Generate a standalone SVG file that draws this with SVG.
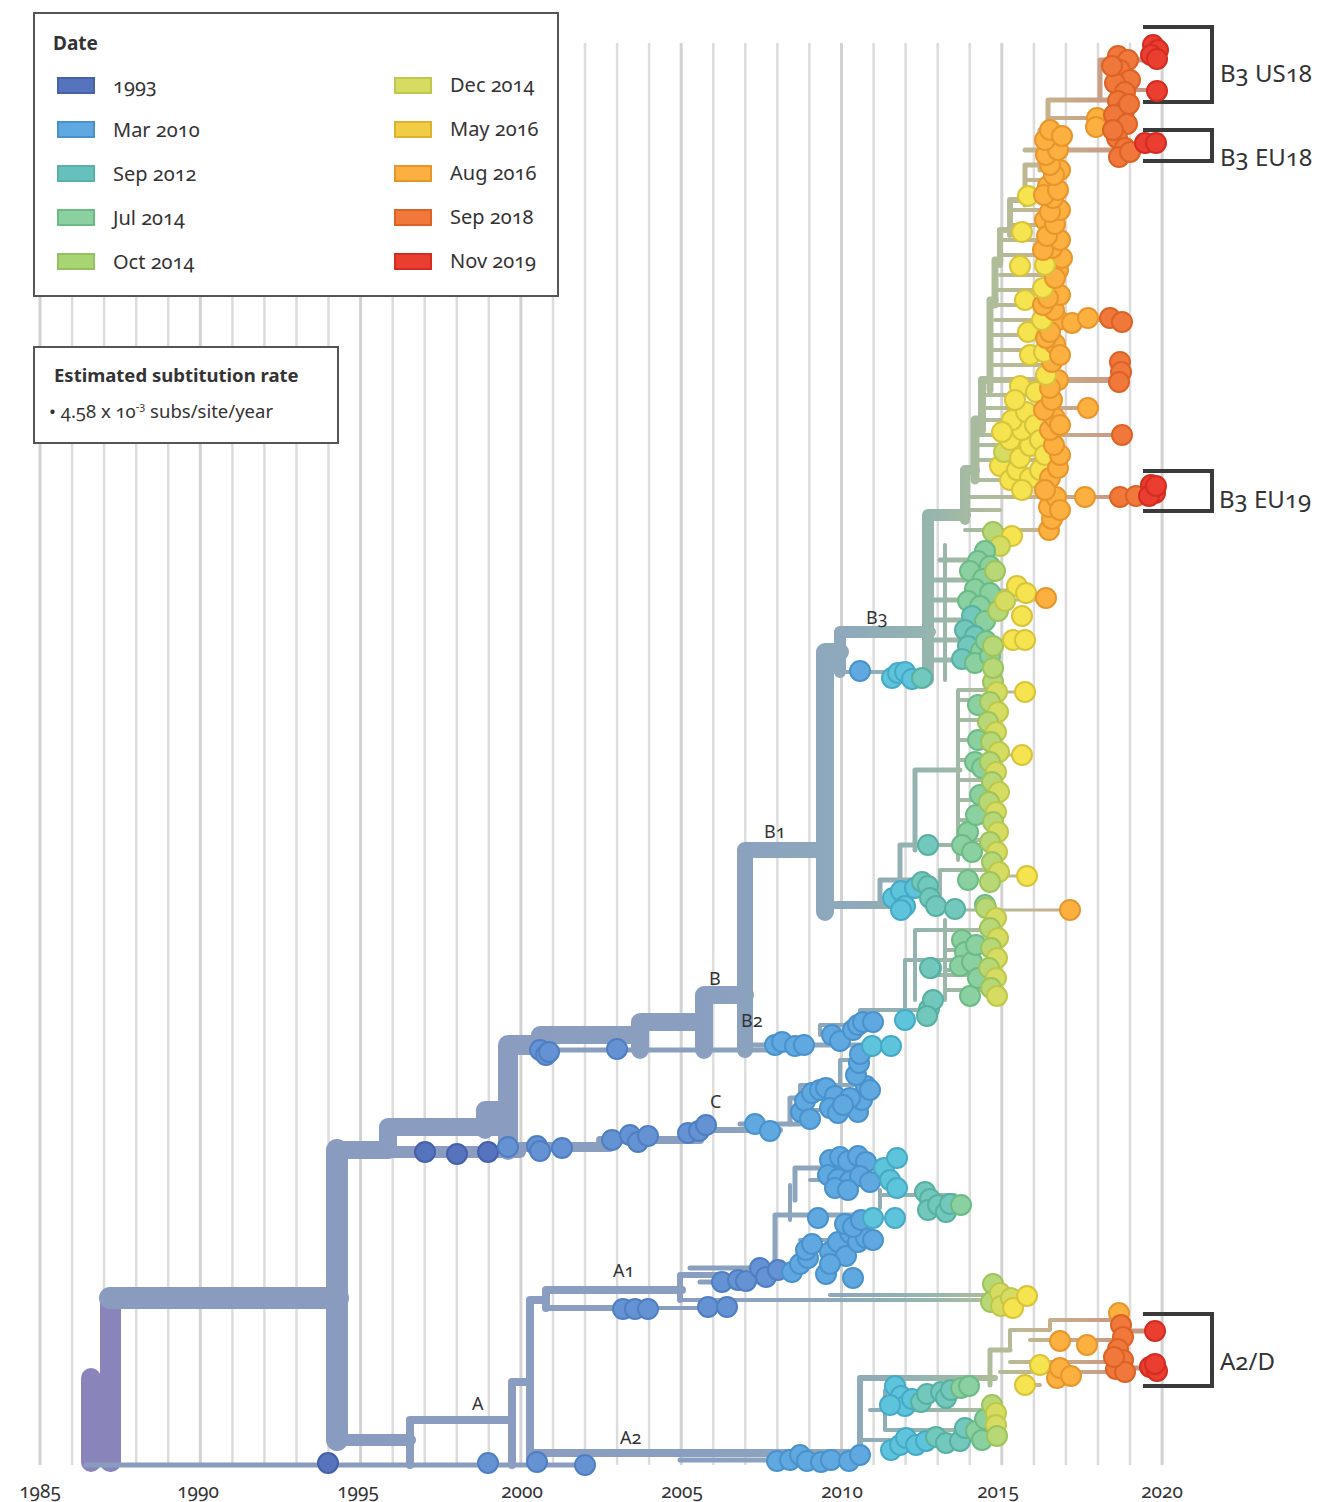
<svg xmlns="http://www.w3.org/2000/svg" width="1317" height="1502" viewBox="0 0 1317 1502">
<defs>
<linearGradient id="gt" gradientUnits="userSpaceOnUse" x1="330" y1="0" x2="1160" y2="0">
<stop offset="0" stop-color="#8a9bc0"/>
<stop offset="0.446" stop-color="#8a9fc0"/>
<stop offset="0.627" stop-color="#8ea9bb"/>
<stop offset="0.723" stop-color="#95b5ae"/>
<stop offset="0.795" stop-color="#aebd9a"/>
<stop offset="0.855" stop-color="#c4b48e"/>
<stop offset="0.928" stop-color="#c99e86"/>
<stop offset="1" stop-color="#c8907c"/>
</linearGradient>
</defs>
<style>
.grid{stroke:#dcdcdc;stroke-width:2.5}
.grid5{stroke:#d2d2d2;stroke-width:3}
.box{fill:#fff;stroke:#555;stroke-width:2}
.t{font-family:"Noto Sans","Open Sans","Liberation Sans",sans-serif;fill:#333;font-variant-numeric:oldstyle-nums}
.lg{font-size:20px}
.ax{font-size:19px;text-anchor:middle}
.cl{font-size:18px}
.bk{font-size:24px}
.b{font-weight:bold}
.br{fill:none;stroke:url(#gt);stroke-linecap:round;stroke-linejoin:round}
.brk{fill:none;stroke:#3a3a3a;stroke-width:4}
circle{stroke-width:2}
.k0{fill:#5673bd;stroke:#4660aa}
.k1{fill:#6592d2;stroke:#4f7fc2}
.k2{fill:#60a8e0;stroke:#4a92cc}
.k3{fill:#5ec4dc;stroke:#46aac6}
.k4{fill:#72c8bc;stroke:#58b0a2}
.k5{fill:#8ad0a0;stroke:#6cbb86}
.k6{fill:#b8d878;stroke:#9cc45c}
.k7{fill:#d6dc62;stroke:#bec84a}
.k8{fill:#f5e350;stroke:#d8c43a}
.k9{fill:#fbb040;stroke:#e8962c}
.k10{fill:#f0783a;stroke:#dc6226}
.k11{fill:#ea3e30;stroke:#d42c22}
.sw{stroke-width:2}
</style>
<rect width="1317" height="1502" fill="#fff"/>
<g id="gridlines">
<line class="grid5" x1="40" y1="43" x2="40" y2="1465"/>
<line class="grid" x1="72.1" y1="43" x2="72.1" y2="1465"/>
<line class="grid" x1="104.1" y1="43" x2="104.1" y2="1465"/>
<line class="grid" x1="136.2" y1="43" x2="136.2" y2="1465"/>
<line class="grid" x1="168.2" y1="43" x2="168.2" y2="1465"/>
<line class="grid5" x1="200.3" y1="43" x2="200.3" y2="1465"/>
<line class="grid" x1="232.4" y1="43" x2="232.4" y2="1465"/>
<line class="grid" x1="264.4" y1="43" x2="264.4" y2="1465"/>
<line class="grid" x1="296.5" y1="43" x2="296.5" y2="1465"/>
<line class="grid" x1="328.5" y1="43" x2="328.5" y2="1465"/>
<line class="grid5" x1="360.6" y1="43" x2="360.6" y2="1465"/>
<line class="grid" x1="392.7" y1="43" x2="392.7" y2="1465"/>
<line class="grid" x1="424.7" y1="43" x2="424.7" y2="1465"/>
<line class="grid" x1="456.8" y1="43" x2="456.8" y2="1465"/>
<line class="grid" x1="488.8" y1="43" x2="488.8" y2="1465"/>
<line class="grid5" x1="520.9" y1="43" x2="520.9" y2="1465"/>
<line class="grid" x1="553" y1="43" x2="553" y2="1465"/>
<line class="grid" x1="585" y1="43" x2="585" y2="1465"/>
<line class="grid" x1="617.1" y1="43" x2="617.1" y2="1465"/>
<line class="grid" x1="649.1" y1="43" x2="649.1" y2="1465"/>
<line class="grid5" x1="681.2" y1="43" x2="681.2" y2="1465"/>
<line class="grid" x1="713.3" y1="43" x2="713.3" y2="1465"/>
<line class="grid" x1="745.3" y1="43" x2="745.3" y2="1465"/>
<line class="grid" x1="777.4" y1="43" x2="777.4" y2="1465"/>
<line class="grid" x1="809.4" y1="43" x2="809.4" y2="1465"/>
<line class="grid5" x1="841.5" y1="43" x2="841.5" y2="1465"/>
<line class="grid" x1="873.6" y1="43" x2="873.6" y2="1465"/>
<line class="grid" x1="905.6" y1="43" x2="905.6" y2="1465"/>
<line class="grid" x1="937.7" y1="43" x2="937.7" y2="1465"/>
<line class="grid" x1="969.7" y1="43" x2="969.7" y2="1465"/>
<line class="grid5" x1="1001.8" y1="43" x2="1001.8" y2="1465"/>
<line class="grid" x1="1033.9" y1="43" x2="1033.9" y2="1465"/>
<line class="grid" x1="1065.9" y1="43" x2="1065.9" y2="1465"/>
<line class="grid" x1="1098" y1="43" x2="1098" y2="1465"/>
<line class="grid" x1="1130" y1="43" x2="1130" y2="1465"/>
<line class="grid5" x1="1162.1" y1="43" x2="1162.1" y2="1465"/>
</g>
<g id="axis-labels" class="t ax">
<text x="40" y="1498">1985</text>
<text x="198" y="1498">1990</text>
<text x="358" y="1498">1995</text>
<text x="522" y="1498">2000</text>
<text x="682" y="1498">2005</text>
<text x="842" y="1498">2010</text>
<text x="998" y="1498">2015</text>
<text x="1162" y="1498">2020</text>
</g>
<g id="legend-date">
<rect class="box" x="34" y="13" width="524" height="283"/>
<text class="t b" x="53" y="50" font-size="19">Date</text>
<rect class="k0 sw" x="58" y="78" width="36" height="15"/>
<rect class="k2 sw" x="58" y="122" width="36" height="15"/>
<rect class="sw" x="58" y="166" width="36" height="15" fill="#66c0bc" stroke="#58b0aa"/>
<rect class="k5 sw" x="58" y="210" width="36" height="15"/>
<rect class="sw" x="58" y="254" width="36" height="15" fill="#a8d474" stroke="#94c260"/>
<rect class="k7 sw" x="395" y="78" width="36" height="15"/>
<rect class="sw" x="395" y="122" width="36" height="15" fill="#f2cc44" stroke="#dcb232"/>
<rect class="k9 sw" x="395" y="166" width="36" height="15"/>
<rect class="k10 sw" x="395" y="210" width="36" height="15"/>
<rect class="k11 sw" x="395" y="254" width="36" height="15"/>
<g class="t lg">
<text x="113" y="93">1993</text>
<text x="113" y="137">Mar 2010</text>
<text x="113" y="181">Sep 2012</text>
<text x="113" y="225">Jul 2014</text>
<text x="113" y="269">Oct 2014</text>
<text x="450" y="92">Dec 2014</text>
<text x="450" y="136">May 2016</text>
<text x="450" y="180">Aug 2016</text>
<text x="450" y="224">Sep 2018</text>
<text x="450" y="268">Nov 2019</text>
</g>
</g>
<g id="legend-rate">
<rect class="box" x="34" y="347" width="304" height="96"/>
<text class="t b" x="54" y="382" font-size="18.5">Estimated subtitution rate</text>
<text class="t" x="49" y="418" font-size="18.5">• 4.58 x 10<tspan font-size="11" dy="-8">-3</tspan><tspan dy="8"> subs/site/year</tspan></text>
</g>
<g id="connectors">
<rect x="81" y="1368" width="20" height="104" rx="10" fill="#8985bb"/>
<rect x="100" y="1288" width="21" height="184" rx="10" fill="#8985bb"/>
<path class="br" stroke-width="5" d="M86,1465 H590"/>
<path d="M110,1298 H338" stroke="#8a9bc0" stroke-width="22" stroke-linecap="round" fill="none"/>
<path d="M337,1150 V1440" stroke="#8a9bc0" stroke-width="22" stroke-linecap="round" fill="none"/>
<path class="br" stroke-width="12" d="M337,1440 H410"/>
<path class="br" stroke-width="8" d="M410,1465 V1420 H512"/>
<path class="br" stroke-width="8" d="M512,1465 V1382 H530"/>
<path class="br" stroke-width="8" d="M530,1458 V1300 H546"/>
<path class="br" stroke-width="8" d="M546,1308 V1290 H682"/>
<path class="br" stroke-width="6" d="M546,1308 H650"/>
<path class="br" stroke-width="4" d="M650,1308 H730"/>
<path class="br" stroke-width="8" d="M530,1453 H860"/>
<path class="br" stroke-width="5" d="M680,1460 H800"/>
<path class="br" stroke-width="6" d="M680,1300 V1275 H720"/>
<path class="br" stroke-width="4" d="M680,1300 H1000"/>
<path class="br" stroke-width="4" d="M830,1295 H990"/>
<path class="br" stroke-width="5" d="M690,1268 H800"/>
<path class="br" stroke-width="5" d="M700,1282 H760"/>
<path class="br" stroke-width="5" d="M775,1268 V1215 H870"/>
<path class="br" stroke-width="4" d="M800,1240 H860"/>
<path class="br" stroke-width="4" d="M790,1220 V1185"/>
<path class="br" stroke-width="5" d="M795,1200 V1168 H880"/>
<path class="br" stroke-width="4" d="M810,1180 H860"/>
<path class="br" stroke-width="4" d="M880,1195 H955"/>
<path class="br" stroke-width="4" d="M880,1208 V1190"/>
<path class="br" stroke-width="6" d="M860,1450 V1378 H995"/>
<path class="br" stroke-width="4" d="M860,1440 H990"/>
<path class="br" stroke-width="4" d="M885,1390 V1430 H960"/>
<path class="br" stroke-width="4" d="M870,1410 H990"/>
<path class="br" stroke-width="4" d="M980,1420 H1000"/>
<path class="br" stroke-width="5" d="M990,1385 V1350 H1010"/>
<path class="br" stroke-width="4" d="M1010,1350 V1330 H1050 V1320 H1120"/>
<path class="br" stroke-width="4" d="M1010,1362 H1120"/>
<path class="br" stroke-width="4" d="M1030,1340 H1125"/>
<path class="br" stroke-width="4" d="M1000,1372 H1120"/>
<path class="br" stroke-width="4" d="M1020,1385 H1040"/>
<path class="br" stroke-width="5" d="M1120,1331 H1155"/>
<path class="br" stroke-width="5" d="M1120,1368 H1155"/>
<path class="br" stroke-width="18" d="M337,1150 H388"/>
<path class="br" stroke-width="12" d="M388,1152 H520"/>
<path class="br" stroke-width="10" d="M520,1147 H610"/>
<path class="br" stroke-width="8" d="M600,1140 H700"/>
<path class="br" stroke-width="6" d="M690,1130 H780"/>
<path class="br" stroke-width="5" d="M740,1124 H800"/>
<path class="br" stroke-width="5" d="M790,1124 V1098 H830"/>
<path class="br" stroke-width="4" d="M800,1098 V1085 H860"/>
<path class="br" stroke-width="4" d="M810,1110 H850"/>
<path class="br" stroke-width="4" d="M840,1085 V1060 H860"/>
<path class="br" stroke-width="18" d="M388,1150 V1127 H500"/>
<path class="br" stroke-width="18" d="M485,1130 V1110 H508"/>
<path class="br" stroke-width="20" d="M508,1150 V1045 H545"/>
<path class="br" stroke-width="18" d="M540,1035 H640"/>
<path class="br" stroke-width="18" d="M640,1050 V1022 H704"/>
<path class="br" stroke-width="18" d="M704,1050 V995 H745"/>
<path class="br" stroke-width="16" d="M745,1050 V850 H825"/>
<path class="br" stroke-width="18" d="M825,912 V652 H840"/>
<path class="br" stroke-width="12" d="M840,672 V632 H930"/>
<path class="br" stroke-width="5" d="M510,1050 H780"/>
<path class="br" stroke-width="5" d="M745,1045 H880"/>
<path class="br" stroke-width="4" d="M820,1035 V1025 H880"/>
<path class="br" stroke-width="4" d="M860,1025 V1010 H935"/>
<path class="br" stroke-width="4" d="M880,1046 H890"/>
<path class="br" stroke-width="4" d="M905,1020 V960 H960"/>
<path class="br" stroke-width="4" d="M915,1000 V930 H990"/>
<path class="br" stroke-width="4" d="M930,975 H990"/>
<path class="br" stroke-width="4" d="M945,990 H995"/>
<path class="br" stroke-width="4" d="M840,672 H925"/>
<path class="br" stroke-width="8" d="M825,905 H890"/>
<path class="br" stroke-width="5" d="M880,905 V880 H930"/>
<path class="br" stroke-width="5" d="M900,885 V845 H930"/>
<path class="br" stroke-width="5" d="M915,850 V770 H960"/>
<path class="br" stroke-width="4" d="M935,845 H995"/>
<path class="br" stroke-width="4" d="M940,900 V870 H1000"/>
<path class="br" stroke-width="3" d="M960,910 H1070"/>
<path class="br" stroke-width="4" d="M958,860 V690 H995"/>
<path class="br" stroke-width="4" d="M958,700 H995 M958,720 H990 M958,740 H995 M958,760 H990 M958,780 H995 M958,800 H990 M958,820 H995 M958,840 H990"/>
<path class="br" stroke-width="3" d="M990,692 H1025 M990,755 H1022 M990,876 H1027"/>
<path class="br" stroke-width="4" d="M945,920 V1000 M945,930 H995 M945,950 H995 M945,970 H995"/>
<path class="br" stroke-width="12" d="M928,680 V515 H965"/>
<path class="br" stroke-width="5" d="M928,660 H990 M928,640 H985 M928,620 H990 M928,600 H995 M935,580 H990 M940,560 H990"/>
<path class="br" stroke-width="4" d="M945,545 V680"/>
<path class="br" stroke-width="3" d="M990,640 H1025 M990,600 H1045 M990,590 H1025"/>
<path class="br" stroke-width="10" d="M965,520 V470 H975"/>
<path class="br" stroke-width="9" d="M975,480 V420 H982"/>
<path class="br" stroke-width="8" d="M982,430 V380 H990"/>
<path class="br" stroke-width="7" d="M990,390 V300 H995"/>
<path class="br" stroke-width="7" d="M995,305 V260 H1000"/>
<path class="br" stroke-width="6" d="M1000,265 V230 H1010"/>
<path class="br" stroke-width="6" d="M1010,235 V200 H1025"/>
<path class="br" stroke-width="5" d="M1025,205 V165 H1040"/>
<path class="br" stroke-width="5" d="M1040,170 V130 H1048"/>
<path class="br" stroke-width="5" d="M1048,135 V100 H1110"/>
<path class="br" stroke-width="4" d="M965,530 H1050 M965,510 H1000"/>
<path class="br" stroke-width="4" d="M965,497 H1135"/>
<path class="br" stroke-width="4" d="M1135,495 H1152"/>
<path class="br" stroke-width="4" d="M975,480 H1030 M975,460 H1040 M975,445 H1050"/>
<path class="br" stroke-width="4" d="M975,435 H1122"/>
<path class="br" stroke-width="4" d="M982,420 H1045 M982,408 H1088"/>
<path class="br" stroke-width="4" d="M985,395 H1050"/>
<path class="br" stroke-width="6" d="M990,380 H1120"/>
<path class="br" stroke-width="4" d="M990,365 H1055 M990,350 H1050 M990,335 H1045"/>
<path class="br" stroke-width="4" d="M995,320 H1122"/>
<path class="br" stroke-width="4" d="M995,305 H1050 M995,290 H1045 M1000,275 H1050 M1000,255 H1060 M1000,240 H1050"/>
<path class="br" stroke-width="4" d="M1010,225 H1055 M1010,210 H1050 M1020,195 H1055 M1025,180 H1050"/>
<path class="br" stroke-width="5" d="M1025,150 H1120"/>
<path class="br" stroke-width="4" d="M1120,145 H1150"/>
<path class="br" stroke-width="4" d="M1048,118 H1100"/>
<path class="br" stroke-width="5" d="M1100,100 V60 H1150"/>
<path class="br" stroke-width="4" d="M1120,90 H1157"/>
</g>
<g id="brackets">
<path class="brk" d="M1143,27 H1212 V102 H1143"/>
<path class="brk" d="M1143,130 H1212 V161 H1143"/>
<path class="brk" d="M1143,471 H1212 V511 H1143"/>
<path class="brk" d="M1143,1314 H1212 V1386 H1143"/>
<g class="t bk">
<text x="1220" y="82">B3 US18</text>
<text x="1220" y="166">B3 EU18</text>
<text x="1219" y="508">B3 EU19</text>
<text x="1220" y="1370">A2/D</text>
</g>
</g>
<g id="clade-labels" class="t cl">
<text x="472" y="1410">A</text>
<text x="613" y="1277">A1</text>
<text x="620" y="1444">A2</text>
<text x="710" y="1108">C</text>
<text x="709" y="985">B</text>
<text x="741" y="1027">B2</text>
<text x="764" y="838">B1</text>
<text x="866" y="624">B3</text>
</g>
<g id="tips-base">
<circle class="k0" cx="328" cy="1463" r="10"/>
<circle class="k1" cx="488" cy="1463" r="10"/>
<circle class="k1" cx="537" cy="1462" r="10"/>
<circle class="k1" cx="585" cy="1465" r="10"/>
</g>
<g id="tips-A1">
<circle class="k1" cx="623" cy="1309" r="10"/><circle class="k1" cx="635" cy="1309" r="10"/><circle class="k1" cx="648" cy="1309" r="10"/>
<circle class="k1" cx="708" cy="1307" r="10"/><circle class="k1" cx="727" cy="1307" r="10"/>
<circle class="k1" cx="722" cy="1282" r="10"/><circle class="k1" cx="738" cy="1280" r="10"/><circle class="k1" cx="746" cy="1281" r="10"/>
<circle class="k1" cx="760" cy="1268" r="10"/><circle class="k1" cx="766" cy="1277" r="10"/><circle class="k1" cx="778" cy="1270" r="10"/>
<circle class="k2" cx="792" cy="1272" r="10"/><circle class="k2" cx="800" cy="1264" r="10"/><circle class="k2" cx="808" cy="1258" r="10"/>
<circle class="k2" cx="826" cy="1274" r="10"/><circle class="k2" cx="853" cy="1278" r="10"/>
<circle class="k2" cx="806" cy="1250" r="10"/><circle class="k2" cx="812" cy="1244" r="10"/><circle class="k2" cx="830" cy="1252" r="10"/>
<circle class="k2" cx="838" cy="1242" r="10"/><circle class="k2" cx="846" cy="1256" r="10"/><circle class="k2" cx="850" cy="1233" r="10"/>
<circle class="k2" cx="858" cy="1242" r="10"/><circle class="k2" cx="866" cy="1238" r="10"/><circle class="k2" cx="873" cy="1240" r="10"/>
<circle class="k2" cx="830" cy="1264" r="10"/><circle class="k2" cx="818" cy="1218" r="10"/><circle class="k2" cx="845" cy="1224" r="10"/>
<circle class="k2" cx="853" cy="1227" r="10"/><circle class="k2" cx="861" cy="1220" r="10"/><circle class="k3" cx="873" cy="1218" r="10"/>
<circle class="k3" cx="895" cy="1218" r="10"/>
<circle class="k2" cx="830" cy="1160" r="10"/><circle class="k2" cx="840" cy="1157" r="10"/><circle class="k2" cx="848" cy="1161" r="10"/>
<circle class="k2" cx="858" cy="1156" r="10"/><circle class="k2" cx="866" cy="1162" r="10"/><circle class="k2" cx="828" cy="1175" r="10"/>
<circle class="k2" cx="838" cy="1179" r="10"/><circle class="k2" cx="850" cy="1181" r="10"/><circle class="k2" cx="860" cy="1176" r="10"/>
<circle class="k2" cx="835" cy="1188" r="10"/><circle class="k2" cx="848" cy="1190" r="10"/><circle class="k2" cx="870" cy="1182" r="10"/>
<circle class="k3" cx="884" cy="1168" r="10"/><circle class="k3" cx="897" cy="1158" r="10"/><circle class="k3" cx="890" cy="1180" r="10"/>
<circle class="k3" cx="897" cy="1188" r="10"/>
<circle class="k4" cx="925" cy="1192" r="10"/><circle class="k4" cx="930" cy="1199" r="10"/><circle class="k4" cx="928" cy="1210" r="10"/>
<circle class="k4" cx="938" cy="1205" r="10"/><circle class="k4" cx="946" cy="1212" r="10"/><circle class="k4" cx="950" cy="1204" r="10"/>
<circle class="k5" cx="961" cy="1205" r="10"/>
<circle class="k6" cx="993" cy="1284" r="10"/><circle class="k6" cx="991" cy="1302" r="10"/><circle class="k7" cx="1000" cy="1293" r="10"/>
<circle class="k7" cx="1001" cy="1306" r="10"/><circle class="k7" cx="1011" cy="1298" r="10"/><circle class="k8" cx="1013" cy="1308" r="10"/>
<circle class="k8" cx="1027" cy="1296" r="10"/>
</g>
<g id="tips-A2">
<circle class="k2" cx="777" cy="1461" r="10"/><circle class="k2" cx="790" cy="1460" r="10"/><circle class="k2" cx="800" cy="1455" r="10"/>
<circle class="k2" cx="807" cy="1461" r="10"/><circle class="k2" cx="821" cy="1462" r="10"/><circle class="k2" cx="831" cy="1460" r="10"/>
<circle class="k2" cx="849" cy="1461" r="10"/><circle class="k2" cx="860" cy="1455" r="10"/><circle class="k3" cx="891" cy="1450" r="10"/>
<circle class="k3" cx="900" cy="1445" r="10"/><circle class="k3" cx="906" cy="1438" r="10"/><circle class="k3" cx="916" cy="1445" r="10"/>
<circle class="k3" cx="926" cy="1441" r="10"/><circle class="k4" cx="936" cy="1437" r="10"/><circle class="k4" cx="946" cy="1443" r="10"/>
<circle class="k4" cx="960" cy="1441" r="10"/><circle class="k4" cx="965" cy="1428" r="10"/><circle class="k5" cx="976" cy="1431" r="10"/>
<circle class="k5" cx="985" cy="1419" r="10"/><circle class="k5" cx="982" cy="1440" r="10"/><circle class="k6" cx="992" cy="1405" r="10"/>
<circle class="k7" cx="996" cy="1413" r="10"/><circle class="k7" cx="996" cy="1425" r="10"/><circle class="k6" cx="997" cy="1436" r="10"/>
<circle class="k3" cx="895" cy="1386" r="10"/><circle class="k3" cx="901" cy="1396" r="10"/><circle class="k3" cx="905" cy="1406" r="10"/>
<circle class="k3" cx="890" cy="1405" r="10"/><circle class="k3" cx="912" cy="1399" r="10"/><circle class="k4" cx="921" cy="1402" r="10"/>
<circle class="k4" cx="927" cy="1394" r="10"/><circle class="k4" cx="941" cy="1392" r="10"/><circle class="k4" cx="946" cy="1398" r="10"/>
<circle class="k4" cx="951" cy="1390" r="10"/><circle class="k5" cx="961" cy="1388" r="10"/><circle class="k5" cx="969" cy="1386" r="10"/>
</g>
<g id="tips-A2D">
<circle class="k8" cx="1025" cy="1385" r="10"/><circle class="k8" cx="1040" cy="1365" r="10"/>
<circle class="k9" cx="1060" cy="1341" r="10"/><circle class="k9" cx="1087" cy="1345" r="10"/><circle class="k9" cx="1057" cy="1378" r="10"/>
<circle class="k9" cx="1060" cy="1368" r="10"/><circle class="k9" cx="1071" cy="1376" r="10"/>
<circle class="k9" cx="1119" cy="1313" r="10"/><circle class="k10" cx="1121" cy="1325" r="10"/><circle class="k10" cx="1123" cy="1337" r="10"/>
<circle class="k10" cx="1118" cy="1349" r="10"/><circle class="k10" cx="1123" cy="1360" r="10"/><circle class="k10" cx="1116" cy="1369" r="10"/>
<circle class="k10" cx="1125" cy="1372" r="10"/><circle class="k10" cx="1114" cy="1357" r="10"/>
<circle class="k11" cx="1155" cy="1331" r="10"/><circle class="k11" cx="1150" cy="1367" r="10"/><circle class="k11" cx="1157" cy="1371" r="10"/>
<circle class="k11" cx="1155" cy="1364" r="10"/>
</g>
<g id="tips-C">
<circle class="k0" cx="425" cy="1152" r="10"/><circle class="k0" cx="457" cy="1154" r="10"/><circle class="k0" cx="488" cy="1152" r="10"/>
<circle class="k1" cx="508" cy="1147" r="10"/><circle class="k1" cx="537" cy="1146" r="10"/><circle class="k1" cx="540" cy="1151" r="10"/>
<circle class="k1" cx="562" cy="1148" r="10"/><circle class="k1" cx="612" cy="1140" r="10"/><circle class="k1" cx="630" cy="1135" r="10"/>
<circle class="k1" cx="638" cy="1142" r="10"/><circle class="k1" cx="648" cy="1136" r="10"/><circle class="k1" cx="688" cy="1133" r="10"/>
<circle class="k1" cx="699" cy="1131" r="10"/><circle class="k1" cx="706" cy="1125" r="10"/><circle class="k2" cx="755" cy="1124" r="10"/>
<circle class="k2" cx="770" cy="1131" r="10"/>
<circle class="k2" cx="801" cy="1112" r="10"/><circle class="k2" cx="805" cy="1101" r="10"/><circle class="k2" cx="812" cy="1093" r="10"/>
<circle class="k2" cx="820" cy="1090" r="10"/><circle class="k2" cx="826" cy="1088" r="10"/><circle class="k2" cx="835" cy="1096" r="10"/>
<circle class="k2" cx="830" cy="1108" r="10"/><circle class="k2" cx="838" cy="1113" r="10"/><circle class="k2" cx="810" cy="1119" r="10"/>
<circle class="k2" cx="858" cy="1112" r="10"/><circle class="k2" cx="862" cy="1100" r="10"/><circle class="k2" cx="866" cy="1086" r="10"/>
<circle class="k2" cx="870" cy="1090" r="10"/><circle class="k2" cx="856" cy="1075" r="10"/><circle class="k2" cx="859" cy="1063" r="10"/>
<circle class="k2" cx="860" cy="1054" r="10"/><circle class="k2" cx="850" cy="1098" r="10"/><circle class="k2" cx="843" cy="1105" r="10"/>
</g>
<g id="tips-B2">
<circle class="k1" cx="540" cy="1050" r="10"/><circle class="k1" cx="546" cy="1055" r="10"/><circle class="k1" cx="549" cy="1052" r="10"/>
<circle class="k1" cx="617" cy="1049" r="10"/>
<circle class="k2" cx="775" cy="1045" r="10"/><circle class="k2" cx="782" cy="1042" r="10"/><circle class="k2" cx="795" cy="1046" r="10"/>
<circle class="k2" cx="804" cy="1045" r="10"/><circle class="k2" cx="832" cy="1035" r="10"/><circle class="k2" cx="840" cy="1041" r="10"/>
<circle class="k2" cx="853" cy="1030" r="10"/><circle class="k2" cx="858" cy="1025" r="10"/><circle class="k2" cx="863" cy="1022" r="10"/>
<circle class="k2" cx="873" cy="1022" r="10"/><circle class="k3" cx="872" cy="1046" r="10"/><circle class="k3" cx="891" cy="1046" r="10"/>
<circle class="k3" cx="905" cy="1020" r="10"/><circle class="k4" cx="929" cy="1009" r="10"/><circle class="k4" cx="933" cy="1000" r="10"/>
<circle class="k4" cx="927" cy="1016" r="10"/><circle class="k4" cx="931" cy="968" r="10"/>
</g>
<g id="tips-B1">
<circle class="k2" cx="860" cy="671" r="10"/><circle class="k3" cx="892" cy="678" r="10"/><circle class="k3" cx="898" cy="673" r="10"/>
<circle class="k3" cx="905" cy="672" r="10"/><circle class="k3" cx="912" cy="679" r="10"/><circle class="k4" cx="922" cy="678" r="10"/>
<circle class="k3" cx="893" cy="898" r="10"/><circle class="k3" cx="901" cy="891" r="10"/><circle class="k3" cx="905" cy="906" r="10"/>
<circle class="k3" cx="915" cy="888" r="10"/><circle class="k4" cx="922" cy="882" r="10"/><circle class="k4" cx="928" cy="886" r="10"/>
<circle class="k4" cx="930" cy="898" r="10"/><circle class="k4" cx="936" cy="906" r="10"/><circle class="k3" cx="901" cy="910" r="10"/>
<circle class="k4" cx="928" cy="845" r="10"/><circle class="k4" cx="955" cy="909" r="10"/><circle class="k5" cx="968" cy="880" r="10"/>
<circle class="k5" cx="968" cy="832" r="10"/><circle class="k5" cx="962" cy="845" r="10"/><circle class="k5" cx="972" cy="852" r="10"/>
<circle class="k5" cx="978" cy="740" r="10"/><circle class="k5" cx="975" cy="762" r="10"/><circle class="k5" cx="982" cy="768" r="10"/>
<circle class="k5" cx="978" cy="705" r="10"/><circle class="k5" cx="980" cy="795" r="10"/><circle class="k5" cx="976" cy="815" r="10"/>
<circle class="k5" cx="985" cy="905" r="10"/><circle class="k4" cx="930" cy="968" r="10"/><circle class="k5" cx="962" cy="940" r="10"/>
<circle class="k5" cx="965" cy="952" r="10"/><circle class="k5" cx="960" cy="966" r="10"/><circle class="k5" cx="972" cy="962" r="10"/>
<circle class="k5" cx="976" cy="945" r="10"/><circle class="k5" cx="970" cy="996" r="10"/><circle class="k5" cx="978" cy="978" r="10"/>
<circle class="k6" cx="993" cy="682" r="10"/><circle class="k7" cx="997" cy="692" r="10"/><circle class="k6" cx="990" cy="702" r="10"/>
<circle class="k7" cx="998" cy="712" r="10"/><circle class="k6" cx="988" cy="722" r="10"/><circle class="k7" cx="996" cy="732" r="10"/>
<circle class="k6" cx="991" cy="742" r="10"/><circle class="k7" cx="999" cy="752" r="10"/><circle class="k6" cx="990" cy="762" r="10"/>
<circle class="k7" cx="996" cy="772" r="10"/><circle class="k6" cx="992" cy="782" r="10"/><circle class="k7" cx="999" cy="792" r="10"/>
<circle class="k6" cx="989" cy="802" r="10"/><circle class="k7" cx="996" cy="812" r="10"/><circle class="k6" cx="993" cy="822" r="10"/>
<circle class="k7" cx="998" cy="832" r="10"/><circle class="k6" cx="990" cy="842" r="10"/><circle class="k7" cx="997" cy="852" r="10"/>
<circle class="k6" cx="992" cy="862" r="10"/><circle class="k7" cx="999" cy="872" r="10"/><circle class="k6" cx="990" cy="882" r="10"/>
<circle class="k6" cx="986" cy="908" r="10"/><circle class="k7" cx="996" cy="918" r="10"/><circle class="k6" cx="990" cy="928" r="10"/>
<circle class="k7" cx="998" cy="938" r="10"/><circle class="k6" cx="991" cy="948" r="10"/><circle class="k7" cx="997" cy="958" r="10"/>
<circle class="k6" cx="989" cy="968" r="10"/><circle class="k7" cx="996" cy="978" r="10"/><circle class="k6" cx="991" cy="988" r="10"/>
<circle class="k7" cx="997" cy="996" r="10"/>
<circle class="k8" cx="1025" cy="692" r="10"/><circle class="k8" cx="1022" cy="755" r="10"/><circle class="k8" cx="1027" cy="876" r="10"/>
<circle class="k9" cx="1070" cy="910" r="10"/>
</g>
<g id="tips-B3-lower">
<circle class="k6" cx="993" cy="532" r="10"/><circle class="k8" cx="1012" cy="536" r="10"/><circle class="k7" cx="1000" cy="546" r="10"/>
<circle class="k5" cx="985" cy="551" r="10"/><circle class="k5" cx="978" cy="561" r="10"/><circle class="k5" cx="990" cy="566" r="10"/>
<circle class="k5" cx="970" cy="571" r="10"/><circle class="k5" cx="983" cy="579" r="10"/><circle class="k5" cx="975" cy="589" r="10"/>
<circle class="k5" cx="990" cy="593" r="10"/><circle class="k5" cx="968" cy="601" r="10"/><circle class="k5" cx="980" cy="606" r="10"/>
<circle class="k4" cx="972" cy="616" r="10"/><circle class="k5" cx="985" cy="621" r="10"/><circle class="k4" cx="965" cy="630" r="10"/>
<circle class="k4" cx="975" cy="636" r="10"/><circle class="k4" cx="968" cy="646" r="10"/><circle class="k5" cx="981" cy="651" r="10"/>
<circle class="k4" cx="962" cy="659" r="10"/><circle class="k5" cx="975" cy="663" r="10"/><circle class="k5" cx="990" cy="656" r="10"/>
<circle class="k5" cx="986" cy="641" r="10"/><circle class="k6" cx="995" cy="571" r="10"/><circle class="k6" cx="998" cy="611" r="10"/>
<circle class="k6" cx="993" cy="646" r="10"/><circle class="k6" cx="993" cy="668" r="10"/>
<circle class="k8" cx="1017" cy="586" r="10"/><circle class="k8" cx="1026" cy="593" r="10"/><circle class="k8" cx="1022" cy="616" r="10"/>
<circle class="k9" cx="1046" cy="598" r="10"/><circle class="k8" cx="1013" cy="640" r="10"/><circle class="k8" cx="1025" cy="640" r="10"/>
<circle class="k7" cx="1005" cy="601" r="10"/>
</g>
<g id="tips-B3-upper">
<circle class="k8" cx="1000" cy="466" r="10"/><circle class="k8" cx="1010" cy="480" r="10"/><circle class="k8" cx="1017" cy="470" r="10"/>
<circle class="k7" cx="1004" cy="452" r="10"/><circle class="k8" cx="1020" cy="458" r="10"/><circle class="k8" cx="1030" cy="446" r="10"/>
<circle class="k8" cx="1010" cy="440" r="10"/><circle class="k8" cx="1022" cy="430" r="10"/><circle class="k8" cx="1012" cy="420" r="10"/>
<circle class="k8" cx="1026" cy="412" r="10"/><circle class="k8" cx="1035" cy="425" r="10"/><circle class="k8" cx="1020" cy="386" r="10"/>
<circle class="k8" cx="1036" cy="392" r="10"/><circle class="k8" cx="1002" cy="432" r="10"/><circle class="k8" cx="1015" cy="400" r="10"/>
<circle class="k8" cx="1030" cy="478" r="10"/><circle class="k8" cx="1022" cy="490" r="10"/><circle class="k8" cx="1040" cy="440" r="10"/>
<circle class="k8" cx="1030" cy="355" r="10"/><circle class="k8" cx="1028" cy="332" r="10"/>
<circle class="k8" cx="1025" cy="300" r="10"/><circle class="k8" cx="1020" cy="266" r="10"/><circle class="k8" cx="1022" cy="232" r="10"/>
<circle class="k8" cx="1028" cy="196" r="10"/><circle class="k8" cx="1040" cy="470" r="10"/><circle class="k8" cx="1045" cy="455" r="10"/>
<circle class="k9" cx="1049" cy="530" r="10"/><circle class="k9" cx="1052" cy="519" r="10"/><circle class="k9" cx="1049" cy="507" r="10"/>
<circle class="k9" cx="1056" cy="497" r="10"/><circle class="k9" cx="1050" cy="478" r="10"/><circle class="k9" cx="1058" cy="468" r="10"/>
<circle class="k9" cx="1060" cy="510" r="10"/><circle class="k9" cx="1045" cy="490" r="10"/><circle class="k9" cx="1060" cy="455" r="10"/>
<circle class="k9" cx="1054" cy="445" r="10"/><circle class="k9" cx="1050" cy="430" r="10"/><circle class="k9" cx="1055" cy="418" r="10"/>
<circle class="k9" cx="1060" cy="425" r="10"/><circle class="k9" cx="1044" cy="410" r="10"/><circle class="k9" cx="1058" cy="380" r="10"/>
<circle class="k9" cx="1052" cy="400" r="10"/><circle class="k9" cx="1050" cy="388" r="10"/><circle class="k8" cx="1046" cy="375" r="10"/>
<circle class="k9" cx="1052" cy="362" r="10"/><circle class="k8" cx="1044" cy="352" r="10"/><circle class="k9" cx="1055" cy="344" r="10"/>
<circle class="k9" cx="1060" cy="355" r="10"/><circle class="k9" cx="1046" cy="338" r="10"/><circle class="k9" cx="1058" cy="320" r="10"/>
<circle class="k9" cx="1050" cy="332" r="10"/><circle class="k8" cx="1042" cy="320" r="10"/><circle class="k9" cx="1054" cy="310" r="10"/>
<circle class="k9" cx="1060" cy="295" r="10"/><circle class="k9" cx="1043" cy="305" r="10"/><circle class="k9" cx="1058" cy="270" r="10"/>
<circle class="k9" cx="1048" cy="298" r="10"/><circle class="k8" cx="1043" cy="288" r="10"/><circle class="k9" cx="1055" cy="278" r="10"/>
<circle class="k9" cx="1062" cy="258" r="10"/><circle class="k8" cx="1045" cy="265" r="10"/><circle class="k9" cx="1052" cy="248" r="10"/>
<circle class="k9" cx="1043" cy="250" r="10"/><circle class="k9" cx="1060" cy="240" r="10"/><circle class="k9" cx="1045" cy="220" r="10"/>
<circle class="k9" cx="1047" cy="236" r="10"/><circle class="k9" cx="1055" cy="224" r="10"/><circle class="k9" cx="1060" cy="210" r="10"/>
<circle class="k9" cx="1050" cy="212" r="10"/><circle class="k9" cx="1053" cy="198" r="10"/><circle class="k9" cx="1048" cy="186" r="10"/>
<circle class="k9" cx="1044" cy="195" r="10"/><circle class="k9" cx="1058" cy="190" r="10"/><circle class="k9" cx="1060" cy="170" r="10"/>
<circle class="k9" cx="1054" cy="175" r="10"/><circle class="k9" cx="1050" cy="165" r="10"/><circle class="k9" cx="1055" cy="138" r="10"/>
<circle class="k9" cx="1046" cy="155" r="10"/><circle class="k9" cx="1058" cy="150" r="10"/><circle class="k9" cx="1045" cy="140" r="10"/>
<circle class="k9" cx="1050" cy="130" r="10"/><circle class="k9" cx="1062" cy="136" r="10"/>
<circle class="k9" cx="1072" cy="323" r="10"/><circle class="k9" cx="1088" cy="318" r="10"/><circle class="k10" cx="1110" cy="318" r="10"/>
<circle class="k10" cx="1122" cy="322" r="10"/><circle class="k10" cx="1120" cy="362" r="10"/><circle class="k10" cx="1121" cy="372" r="10"/>
<circle class="k10" cx="1119" cy="382" r="10"/><circle class="k9" cx="1088" cy="408" r="10"/><circle class="k10" cx="1122" cy="435" r="10"/>
<circle class="k9" cx="1085" cy="497" r="10"/><circle class="k10" cx="1120" cy="497" r="10"/><circle class="k10" cx="1136" cy="496" r="10"/>
<circle class="k11" cx="1151" cy="485" r="10"/><circle class="k11" cx="1155" cy="493" r="10"/><circle class="k11" cx="1149" cy="496" r="10"/>
<circle class="k11" cx="1156" cy="486" r="10"/>
</g>
<g id="tips-B3-top">
<circle class="k9" cx="1097" cy="118" r="10"/><circle class="k9" cx="1096" cy="127" r="10"/>
<circle class="k10" cx="1118" cy="56" r="10"/><circle class="k10" cx="1128" cy="60" r="10"/><circle class="k10" cx="1120" cy="70" r="10"/>
<circle class="k10" cx="1130" cy="80" r="10"/><circle class="k10" cx="1115" cy="83" r="10"/><circle class="k10" cx="1125" cy="92" r="10"/>
<circle class="k10" cx="1118" cy="101" r="10"/><circle class="k10" cx="1124" cy="111" r="10"/><circle class="k10" cx="1114" cy="115" r="10"/>
<circle class="k10" cx="1127" cy="124" r="10"/><circle class="k10" cx="1117" cy="138" r="10"/><circle class="k10" cx="1125" cy="148" r="10"/>
<circle class="k10" cx="1119" cy="157" r="10"/><circle class="k10" cx="1130" cy="152" r="10"/><circle class="k10" cx="1112" cy="66" r="10"/>
<circle class="k10" cx="1129" cy="104" r="10"/><circle class="k10" cx="1113" cy="130" r="10"/>
<circle class="k11" cx="1153" cy="45" r="10"/><circle class="k11" cx="1158" cy="50" r="10"/><circle class="k11" cx="1151" cy="55" r="10"/>
<circle class="k11" cx="1157" cy="59" r="10"/><circle class="k11" cx="1157" cy="91" r="10"/><circle class="k11" cx="1145" cy="143" r="10"/>
<circle class="k11" cx="1156" cy="143" r="10"/>
</g>
</svg>
